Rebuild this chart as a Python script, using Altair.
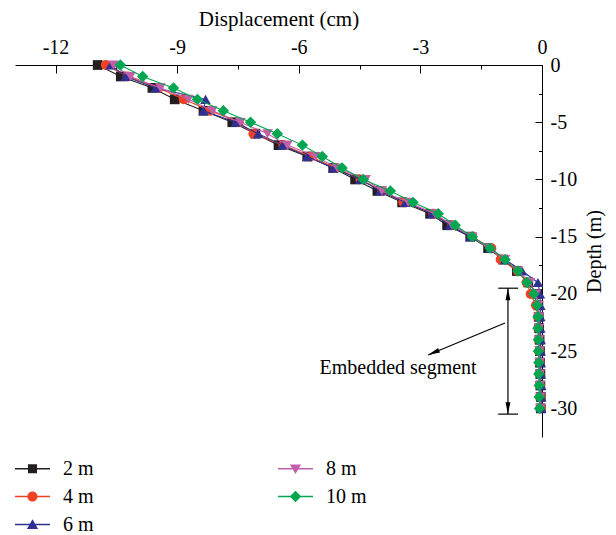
import altair as alt
import pandas as pd

FONT = "Liberation Serif"

# ---------------- data ----------------
depth_m = list(range(0, 31))
series = ["2 m", "4 m", "6 m", "8 m", "10 m"]
series_colors = ["#231f20", "#ef4123", "#2e3192", "#c160a9", "#00a650"]
marker_shapes = ["square", "circle", "triangle-up", "triangle-down", "diamond"]
marker_sizes = [95, 100, 110, 110, 130]

disp_2m = [-10.96, -10.39, -9.61, -9.06, -8.35, -7.64, -7.07, -6.50, -5.79, -5.15,
           -4.61, -4.06, -3.45, -2.76, -2.34, -1.77, -1.33, -0.96, -0.62, -0.34,
           -0.12, -0.09, -0.08, -0.07, -0.06, -0.05, -0.05, -0.04, -0.04, -0.03, -0.03]
disp_4m = [-10.76, -10.22, -9.46, -8.84, -8.18, -7.48, -7.12, -6.38, -5.71, -5.10,
           -4.48, -3.94, -3.42, -2.68, -2.22, -1.72, -1.25, -1.02, -0.60, -0.38,
           -0.28, -0.15, -0.10, -0.09, -0.08, -0.07, -0.06, -0.06, -0.05, -0.05, -0.04]
disp_6m = [-10.64, -10.27, -9.53, -8.30, -8.35, -7.56, -7.00, -6.40, -5.79, -5.15,
           -4.48, -3.99, -3.37, -2.71, -2.27, -1.77, -1.28, -0.91, -0.49, -0.10,
           -0.05, -0.04, -0.04, -0.04, -0.03, -0.03, -0.03, -0.03, -0.02, -0.02, -0.02]
disp_8m = [-10.57, -10.15, -9.41, -8.72, -8.13, -7.44, -6.77, -6.28, -5.59, -5.05,
           -4.35, -3.95, -3.30, -2.64, -2.22, -1.72, -1.33, -0.91, -0.59, -0.30,
           -0.15, -0.09, -0.08, -0.07, -0.07, -0.06, -0.06, -0.05, -0.05, -0.04, -0.04]
disp_10m = [-10.40, -9.85, -9.09, -8.50, -7.86, -7.19, -6.53, -5.91, -5.42, -4.93,
            -4.41, -3.74, -3.18, -2.56, -2.14, -1.72, -1.28, -0.91, -0.59, -0.37,
            -0.20, -0.12, -0.10, -0.10, -0.09, -0.09, -0.08, -0.08, -0.07, -0.07, -0.06]

x_ticks = [-12, -10.5, -9, -7.5, -6, -4.5, -3, -1.5, 0]
y_ticks = [0, -2.5, -5, -7.5, -10, -12.5, -15, -17.5, -20, -22.5, -25, -27.5, -30]

# legend symbols: a line with the series marker on it
legend_paths = {
    "2 m": "M-1,-0.045H1V0.045H-1Z M-0.26,-0.26H0.26V0.26H-0.26Z",
    "4 m": "M-1,-0.045H1V0.045H-1Z M-0.29,0A0.29,0.29,0,1,1,0.29,0A0.29,0.29,0,1,1,-0.29,0Z",
    "6 m": "M-1,-0.045H1V0.045H-1Z M0,-0.3L0.32,0.25L-0.32,0.25Z",
    "8 m": "M-1,-0.045H1V0.045H-1Z M0,0.3L-0.32,-0.25L0.32,-0.25Z",
    "10 m": "M-1,-0.045H1V0.045H-1Z M0,-0.33L0.33,0L0,0.33L-0.33,0Z",
}

# annotation ("Embedded segment" dimension line)
dim_x = [-0.84]
dim_top = [-19.5]
dim_bottom = [-30.5]
cap_x1 = [-1.08, -1.08]
cap_x2 = [-0.59, -0.59]
cap_y = [-19.5, -30.5]
arrow_from = [-0.913, -22.54]
arrow_to = [-2.81, -25.34]
head_x = [-0.84, -0.84, -2.676]
head_y = [-20.02, -29.98, -25.13]
head_angle = [0, 180, 247.4]
label_text = ["Embedded segment"]
label_x = [-3.55]
label_y = [-26.5]

# ---------------- build ----------------
W, H = 527, 372

rows = []
for name, vals in zip(series, [disp_2m, disp_4m, disp_6m, disp_8m, disp_10m]):
    for dep, v in zip(depth_m, vals):
        rows.append({"series": name, "disp": v, "depth": -dep})
df = pd.DataFrame(rows)

color_scale = alt.Scale(domain=series, range=series_colors)
shape_scale = alt.Scale(domain=series, range=[legend_paths[s] for s in series])

xscale = alt.Scale(domain=[-13, 0], nice=False, zero=False)
yscale = alt.Scale(domain=[-32.5, 0], nice=False, zero=False)

x_axis = alt.Axis(
    orient="top", title="Displacement (cm)", values=x_ticks,
    labelExpr="datum.value % 3 === 0 ? toString(datum.value) : ''",
    ticks=False, tickSize=0, domain=True, domainColor="black", domainWidth=1,
    grid=True, gridColor="black", gridOpacity=1, gridWidth=1,
    gridDash={"condition": {"test": "datum.value % 3 === 0", "value": [0, H - 8, 8, 0]},
              "value": [0, H - 4, 4, 0]},
    labelFont=FONT, labelFontSize=20, labelColor="black", labelPadding=8, labelAngle=0,
    labelOverlap=False, labelFlush=False,
    titleFont=FONT, titleFontSize=21, titleFontWeight="normal", titleColor="black", titlePadding=8,
)
y_axis = alt.Axis(
    orient="right", title="Depth (m)", values=y_ticks,
    labelExpr="datum.value % 5 === 0 ? toString(datum.value) : ''",
    ticks=False, tickSize=0, domain=True, domainColor="black", domainWidth=1,
    grid=True, gridColor="black", gridOpacity=1, gridWidth=1,
    gridDash={"condition": {"test": "datum.value % 5 === 0", "value": [7, W + 10]},
              "value": [3.5, W + 10]},
    labelFont=FONT, labelFontSize=20, labelColor="black", labelPadding=8,
    labelAlign="left", labelBaseline="middle", labelOverlap=False, labelFlush=False,
    titleFont=FONT, titleFontSize=20, titleFontWeight="normal", titleColor="black",
    titleAngle=270, titleBaseline="top", titlePadding=8,
)

X = alt.X("disp:Q", scale=xscale, axis=x_axis)
Y = alt.Y("depth:Q", scale=yscale, axis=y_axis)

base = alt.Chart(df)

series_layers = []
for name, shp, sz, col in zip(series, marker_shapes, marker_sizes, series_colors):
    sub = base.transform_filter(alt.datum.series == name)
    series_layers.append(
        sub.mark_line(strokeWidth=1.1, color=col).encode(
            x=X, y=Y, order=alt.Order("depth:Q", sort="descending")
        )
    )
    series_layers.append(
        sub.mark_point(shape=shp, size=sz, filled=True, opacity=1, color=col, strokeWidth=0)
        .encode(x=X, y=Y)
    )

leg = alt.Legend(
    title=None, orient="none", legendX=0, legendY=386, columns=2,
    columnPadding=184, rowPadding=-8.5, symbolSize=1225, symbolStrokeWidth=0,
    symbolOpacity=1, labelFont=FONT, labelFontSize=20, labelColor="black",
    labelOffset=13, labelLimit=0,
)
legend_layer = alt.Chart(pd.DataFrame({"series": series})).transform_filter(
    "false"
).mark_point(filled=True, opacity=1).encode(
    color=alt.Color("series:N", scale=color_scale, legend=leg),
    shape=alt.Shape("series:N", scale=shape_scale, legend=leg),
)

# annotation layers
vline = alt.Chart(pd.DataFrame({"disp": dim_x, "depth": dim_top, "depth2": dim_bottom})).mark_rule(
    color="black", strokeWidth=1.2
).encode(x=X, y=Y, y2="depth2:Q")

caps = alt.Chart(pd.DataFrame({"disp": cap_x1, "disp2": cap_x2, "depth": cap_y})).mark_rule(
    color="black", strokeWidth=1.2
).encode(x=X, x2="disp2:Q", y=Y)

slant = alt.Chart(pd.DataFrame({"disp": [arrow_from[0]], "depth": [arrow_from[1]],
                                "disp2": [arrow_to[0]], "depth2": [arrow_to[1]]})).mark_rule(
    color="black", strokeWidth=1.2
).encode(x=X, y=Y, x2="disp2:Q", y2="depth2:Q")

heads = alt.Chart(pd.DataFrame({"disp": head_x, "depth": head_y, "ang": head_angle})).mark_point(
    shape="M0,-1L0.4,1L-0.4,1Z", size=144, filled=True, opacity=1, color="black", strokeWidth=0
).encode(x=X, y=Y, angle=alt.Angle("ang:Q", scale=None))

label = alt.Chart(pd.DataFrame({"disp": label_x, "depth": label_y, "txt": label_text})).mark_text(
    font=FONT, fontSize=20, color="black", align="center", baseline="middle"
).encode(x=X, y=Y, text="txt:N")

chart = alt.layer(
    *series_layers, vline, caps, slant, heads, label, legend_layer
).properties(
    width=W, height=H,
    padding={"left": 7, "top": 57, "right": 66, "bottom": 98},
    autosize=alt.AutoSizeParams(type="none"),
    background="white",
).configure_view(stroke=None)

chart.save("out.html", embed_options={"renderer": "svg", "actions": False})
